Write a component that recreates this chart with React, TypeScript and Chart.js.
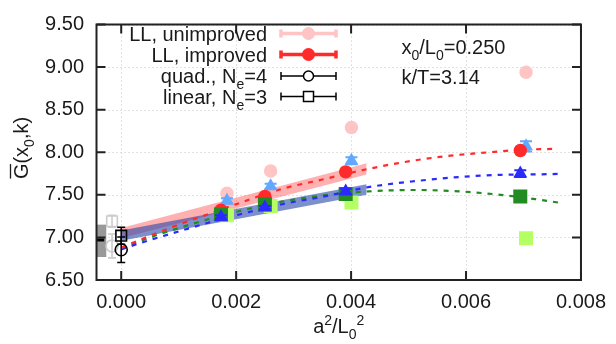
import React, { useEffect, useRef } from "react";
import { Chart, registerables } from "chart.js";
Chart.register(...registerables);

// ---------------- data ----------------
const xImproved = [0.001736, 0.0025, 0.003906, 0.006944];
const xShifted = [0.00184, 0.0026, 0.004006, 0.007044];

const llUnimproved = [7.52, 7.78, 8.29, 8.94];
const llUnimprovedErr = [0.01, 0.01, 0.01, 0.01];
const llImproved = [7.32, 7.48, 7.77, 8.02];
const llImprovedErr = [0.01, 0.01, 0.01, 0.01];
const lightBlueTri = [7.43, 7.6, 7.9, 8.07];
const lightBlueTriErr = [0.03, 0.03, 0.04, 0.06];
const blueTri = [7.24, 7.35, 7.54, 7.75];
const blueTriErr = [0.02, 0.02, 0.03, 0.04];
const darkGreenSq = [7.27, 7.39, 7.51, 7.48];
const limeSq = [7.26, 7.37, 7.41, 6.99];

const extrapX = [0];
const quadExtrap = [6.855];
const quadExtrapErr = [0.15];
const linExtrap = [7.02];
const linExtrapErr = [0.1];
const oldX = [-0.00016];
const oldQuad = [6.9];
const oldQuadErr = [0.14];
const oldLin = [7.19];
const oldLinErr = [0.07];

const refBoxX = [-0.00043, -0.00026];
const refBoxY = [6.77, 7.15];
const refLineY = 6.97;

const bandX = [0, 0.00427];
const pinkBandUpper = [7.11, 7.87];
const pinkBandLower = [6.99, 7.74];
const blueBandUpper = [7.08, 7.625];
const blueBandLower = [6.96, 7.5];

const redFitX = [0, 0.0005, 0.001, 0.0015, 0.002, 0.0028, 0.0035, 0.0042, 0.0048, 0.0056, 0.0064, 0.007, 0.0076];
const redFitY = [6.88, 7.02, 7.15, 7.27, 7.39, 7.57, 7.68, 7.79, 7.87, 7.95, 8.0, 8.03, 8.04];
const blueFitX = [0, 0.0005, 0.001, 0.0015, 0.002, 0.0028, 0.0036, 0.0043, 0.0051, 0.0059, 0.0066, 0.0072, 0.0076];
const blueFitY = [6.86, 6.97, 7.07, 7.17, 7.26, 7.39, 7.49, 7.59, 7.66, 7.71, 7.735, 7.74, 7.745];
const greenFitX = [0, 0.0005, 0.001, 0.0015, 0.002, 0.0028, 0.0036, 0.0043, 0.0051, 0.0059, 0.0066, 0.0072, 0.0076];
const greenFitY = [6.87, 7.0, 7.11, 7.21, 7.3, 7.42, 7.5, 7.54, 7.557, 7.54, 7.5, 7.45, 7.41];

const xTicks = [0, 0.002, 0.004, 0.006, 0.008];
const yTicks = [6.5, 7.0, 7.5, 8.0, 8.5, 9.0, 9.5];
const xMin = -0.00043;
const xMax = 0.008;
const yMin = 6.5;
const yMax = 9.5;

// ---------------- style ----------------
const FONT = '"Liberation Sans", Arial, Helvetica, sans-serif';
const FS = 20;
const PINK = "#ffc4c4";
const RED = "#ff2a2a";
const LBLUE = "#62a8ff";
const BLUE = "#2a2aff";
const DGREEN = "#228b22";
const LIME = "#b4ff64";
const TXT = "#1a1a1a";

type Part = { t: string; s?: "sub" | "sup" };

function partFont(p: Part, fs: number) {
  return `${p.s ? Math.round(fs * 0.72) : fs}px ${FONT}`;
}
function richWidth(ctx: CanvasRenderingContext2D, parts: Part[], fs: number) {
  let w = 0;
  for (const p of parts) {
    ctx.font = partFont(p, fs);
    w += ctx.measureText(p.t).width;
  }
  return w;
}
function drawRich(ctx: CanvasRenderingContext2D, parts: Part[], x: number, y: number, align: string, fs: number) {
  const w = richWidth(ctx, parts, fs);
  let cx = align === "right" ? x - w : align === "center" ? x - w / 2 : x;
  ctx.textAlign = "left";
  ctx.textBaseline = "alphabetic";
  for (const p of parts) {
    ctx.font = partFont(p, fs);
    const dy = p.s === "sub" ? fs * 0.3 : p.s === "sup" ? -fs * 0.4 : 0;
    ctx.fillText(p.t, cx, y + dy);
    cx += ctx.measureText(p.t).width;
  }
  return w;
}

const xy = (xs: number[], ys: number[]) => xs.map((x, i) => ({ x, y: ys[i] }));

const errorBars = {
  id: "errorBars",
  beforeDatasetDraw(chart: any, args: any) {
    const ds = chart.data.datasets[args.index];
    if (!ds.errors) return;
    const ctx = chart.ctx as CanvasRenderingContext2D;
    const ys = chart.scales.y;
    const a = chart.chartArea;
    ctx.save();
    ctx.beginPath();
    ctx.rect(a.left, a.top, a.right - a.left, a.bottom - a.top);
    ctx.clip();
    ctx.strokeStyle = ds.errColor;
    ctx.lineWidth = ds.errWidth;
    const cap = ds.errCap;
    args.meta.data.forEach((el: any, i: number) => {
      const e = ds.errors[i];
      if (!e) return;
      const v = ds.data[i].y;
      const y1 = ys.getPixelForValue(v + e);
      const y2 = ys.getPixelForValue(v - e);
      const x = el.x;
      ctx.beginPath();
      ctx.moveTo(x, y1);
      ctx.lineTo(x, y2);
      ctx.moveTo(x - cap, y1);
      ctx.lineTo(x + cap, y1);
      ctx.moveTo(x - cap, y2);
      ctx.lineTo(x + cap, y2);
      ctx.stroke();
    });
    ctx.restore();
  },
};

const decor = {
  id: "decor",
  beforeDatasetsDraw(chart: any) {
    const ctx = chart.ctx as CanvasRenderingContext2D;
    const xs = chart.scales.x;
    const ys = chart.scales.y;
    const a = chart.chartArea;
    ctx.save();
    ctx.strokeStyle = "#c4c4c4";
    ctx.lineWidth = 1;
    ctx.setLineDash([1, 3]);
    for (const t of xTicks) {
      const px = Math.round(xs.getPixelForValue(t)) + 0.5;
      ctx.beginPath();
      ctx.moveTo(px, a.top);
      ctx.lineTo(px, a.bottom);
      ctx.stroke();
    }
    for (const t of yTicks) {
      const py = Math.round(ys.getPixelForValue(t)) + 0.5;
      ctx.beginPath();
      ctx.moveTo(a.left, py);
      ctx.lineTo(a.right, py);
      ctx.stroke();
    }
    ctx.setLineDash([]);
    // reference box
    const bx1 = xs.getPixelForValue(refBoxX[0]);
    const bx2 = xs.getPixelForValue(refBoxX[1]);
    const by1 = ys.getPixelForValue(refBoxY[1]);
    const by2 = ys.getPixelForValue(refBoxY[0]);
    ctx.fillStyle = "#999999";
    ctx.fillRect(bx1, by1, bx2 - bx1, by2 - by1);
    ctx.strokeStyle = "#000";
    ctx.lineWidth = 3;
    ctx.beginPath();
    const ly = ys.getPixelForValue(refLineY);
    ctx.moveTo(bx1, ly);
    ctx.lineTo(bx2 - 2, ly);
    ctx.stroke();
    ctx.restore();
  },
  afterDraw(chart: any) {
    const ctx = chart.ctx as CanvasRenderingContext2D;
    const xs = chart.scales.x;
    const ys = chart.scales.y;
    const a = chart.chartArea;
    ctx.save();
    // frame
    ctx.strokeStyle = "#222";
    ctx.lineWidth = 2;
    ctx.strokeRect(a.left, a.top, a.right - a.left, a.bottom - a.top);
    // inward ticks
    const tl = 9;
    ctx.beginPath();
    for (const t of xTicks) {
      const px = xs.getPixelForValue(t);
      ctx.moveTo(px, a.bottom);
      ctx.lineTo(px, a.bottom - tl);
      ctx.moveTo(px, a.top);
      ctx.lineTo(px, a.top + tl);
    }
    for (const t of yTicks) {
      const py = ys.getPixelForValue(t);
      ctx.moveTo(a.left, py);
      ctx.lineTo(a.left + tl, py);
      ctx.moveTo(a.right, py);
      ctx.lineTo(a.right - tl, py);
    }
    ctx.stroke();

    // legend
    ctx.fillStyle = TXT;
    const rows: { label: Part[]; color: string; lw: number; marker: string; cy: number }[] = [
      { label: [{ t: "LL, unimproved" }], color: PINK, lw: 3.5, marker: "fcircle", cy: 33.5 },
      { label: [{ t: "LL, improved" }], color: RED, lw: 3.5, marker: "fcircle", cy: 54.5 },
      { label: [{ t: "quad., N" }, { t: "e", s: "sub" }, { t: "=4" }], color: "#000", lw: 1.5, marker: "ocircle", cy: 76 },
      { label: [{ t: "linear, N" }, { t: "e", s: "sub" }, { t: "=3" }], color: "#000", lw: 1.5, marker: "osquare", cy: 96.5 },
    ];
    const lx1 = 281;
    const lx2 = 336;
    const mx = 308.5;
    for (const r of rows) {
      ctx.fillStyle = TXT;
      drawRich(ctx, r.label, 267, r.cy + 7, "right", FS);
      ctx.strokeStyle = r.color;
      ctx.lineWidth = r.lw;
      ctx.beginPath();
      ctx.moveTo(lx1, r.cy);
      ctx.lineTo(lx2, r.cy);
      ctx.moveTo(lx1, r.cy - 4);
      ctx.lineTo(lx1, r.cy + 4);
      ctx.moveTo(lx2, r.cy - 4);
      ctx.lineTo(lx2, r.cy + 4);
      ctx.stroke();
      if (r.marker === "fcircle") {
        ctx.fillStyle = r.color;
        ctx.beginPath();
        ctx.arc(mx, r.cy, 6.5, 0, Math.PI * 2);
        ctx.fill();
      } else if (r.marker === "ocircle") {
        ctx.fillStyle = "#fff";
        ctx.lineWidth = 1.5;
        ctx.beginPath();
        ctx.arc(mx, r.cy, 5, 0, Math.PI * 2);
        ctx.fill();
        ctx.stroke();
      } else {
        ctx.fillStyle = "#fff";
        ctx.lineWidth = 1.5;
        ctx.fillRect(mx - 5, r.cy - 5, 10, 10);
        ctx.strokeRect(mx - 5, r.cy - 5, 10, 10);
      }
    }

    // annotations
    ctx.fillStyle = TXT;
    drawRich(ctx, [{ t: "x" }, { t: "0", s: "sub" }, { t: "/L" }, { t: "0", s: "sub" }, { t: "=0.250" }], 401.5, 53.5, "left", FS);
    drawRich(ctx, [{ t: "k/T=3.14" }], 401.5, 84, "left", FS);

    // x title
    const xc = (a.left + a.right) / 2;
    drawRich(ctx, [{ t: "a" }, { t: "2", s: "sup" }, { t: "/L" }, { t: "0", s: "sub" }, { t: "2", s: "sup" }], xc, 333, "center", FS);

    // y title (rotated)
    ctx.translate(28, 148);
    ctx.rotate(-Math.PI / 2);
    const yParts: Part[] = [{ t: "G(x" }, { t: "0", s: "sub" }, { t: ",k)" }];
    const w = drawRich(ctx, yParts, 0, 0, "center", FS);
    ctx.font = `${FS}px ${FONT}`;
    const gw = ctx.measureText("G").width;
    ctx.strokeStyle = TXT;
    ctx.lineWidth = 1.3;
    ctx.beginPath();
    ctx.moveTo(-w / 2 + 0.5, -17.5);
    ctx.lineTo(-w / 2 + gw - 0.5, -17.5);
    ctx.stroke();
    ctx.restore();
  },
};

export default function App() {
  const ref = useRef<HTMLCanvasElement>(null);
  useEffect(() => {
    document.body.style.margin = "0";
    const canvas = ref.current!;
    const band = (ys: number[], fill: any, bg: string, order: number) => ({
      data: xy(bandX, ys),
      showLine: true,
      borderColor: "rgba(0,0,0,0)",
      borderWidth: 1,
      pointRadius: 0,
      fill,
      backgroundColor: bg,
      order,
    });
    const dashed = (xs: number[], ys: number[], color: string, order: number) => ({
      data: xy(xs, ys),
      showLine: true,
      borderColor: color,
      borderWidth: 2.2,
      borderDash: [5, 6],
      cubicInterpolationMode: "monotone",
      pointRadius: 0,
      fill: false,
      order,
    });
    const pts = (xs: number[], ys: number[], style: string, r: number, color: string, order: number, errs?: number[], errColor?: string, cap = 6) => ({
      data: xy(xs, ys),
      showLine: false,
      pointStyle: style,
      pointRadius: r,
      backgroundColor: color,
      borderColor: color,
      borderWidth: 0,
      order,
      errors: errs,
      errColor: errColor || color,
      errWidth: 2,
      errCap: cap,
    });
    const open = (xs: number[], ys: number[], style: string, r: number, color: string, order: number, errs: number[]) => ({
      data: xy(xs, ys),
      showLine: false,
      pointStyle: style,
      pointRadius: r,
      backgroundColor: "rgba(0,0,0,0)",
      borderColor: color,
      borderWidth: 1.6,
      order,
      errors: errs,
      errColor: color,
      errWidth: 1.6,
      errCap: 4,
    });

    const chart = new Chart(canvas, {
      type: "scatter",
      data: {
        datasets: [
          band(pinkBandUpper, false, "rgba(0,0,0,0)", 104),
          band(pinkBandLower, "-1", "rgba(255,70,70,0.42)", 103),
          band(blueBandUpper, false, "rgba(0,0,0,0)", 102),
          band(blueBandLower, "-1", "rgba(40,70,170,0.6)", 101),
          dashed(greenFitX, greenFitY, DGREEN, 62),
          dashed(blueFitX, blueFitY, BLUE, 61),
          dashed(redFitX, redFitY, RED, 60),
          open(oldX, oldQuad, "circle", 6, "#cccccc", 41, oldQuadErr),
          open(oldX, oldLin, "rect", 7.5, "#cccccc", 40, oldLinErr),
          open(extrapX, quadExtrap, "circle", 6, "#000000", 31, quadExtrapErr),
          open(extrapX, linExtrap, "rect", 7.5, "#000000", 30, linExtrapErr),
          pts(xShifted, llUnimproved, "circle", 6.7, PINK, 20, llUnimprovedErr),
          pts(xShifted, lightBlueTri, "triangle", 8, LBLUE, 19, lightBlueTriErr, LBLUE, 6),
          pts(xImproved, llImproved, "circle", 6.7, RED, 18, llImprovedErr),
          pts(xShifted, limeSq, "rect", 9.9, LIME, 17),
          pts(xImproved, darkGreenSq, "rect", 9.9, DGREEN, 16),
          pts(xImproved, blueTri, "triangle", 8, BLUE, 15, blueTriErr, BLUE, 6),
        ] as any,
      },
      options: {
        responsive: false,
        animation: false,
        devicePixelRatio: 1,
        events: [],
        layout: { padding: { left: 0, right: 28, top: 15.5, bottom: 0 } },
        plugins: { legend: { display: false }, tooltip: { enabled: false } },
        scales: {
          x: {
            type: "linear",
            min: xMin,
            max: xMax,
            afterBuildTicks: (s: any) => {
              s.ticks = xTicks.map((v) => ({ value: v }));
            },
            afterFit: (s: any) => {
              s.height = 64;
            },
            grid: { display: false, drawTicks: false },
            border: { display: false },
            ticks: {
              padding: 10,
              maxRotation: 0,
              autoSkip: false,
              color: TXT,
              font: { family: FONT, size: FS },
              callback: (v: any) => Number(v).toFixed(3),
            },
          },
          y: {
            type: "linear",
            min: yMin,
            max: yMax,
            afterBuildTicks: (s: any) => {
              s.ticks = yTicks.map((v) => ({ value: v }));
            },
            afterFit: (s: any) => {
              s.width = 96.5;
            },
            grid: { display: false, drawTicks: false },
            border: { display: false },
            ticks: {
              padding: 12.5,
              autoSkip: false,
              color: TXT,
              font: { family: FONT, size: FS },
              callback: (v: any) => Number(v).toFixed(2),
            },
          },
        },
      } as any,
      plugins: [errorBars, decor],
    });
    return () => chart.destroy();
  }, []);
  return (
    <div style={{ width: 616, height: 344 }}>
      <canvas ref={ref} width={616} height={344} style={{ display: "block" }} />
    </div>
  );
}
